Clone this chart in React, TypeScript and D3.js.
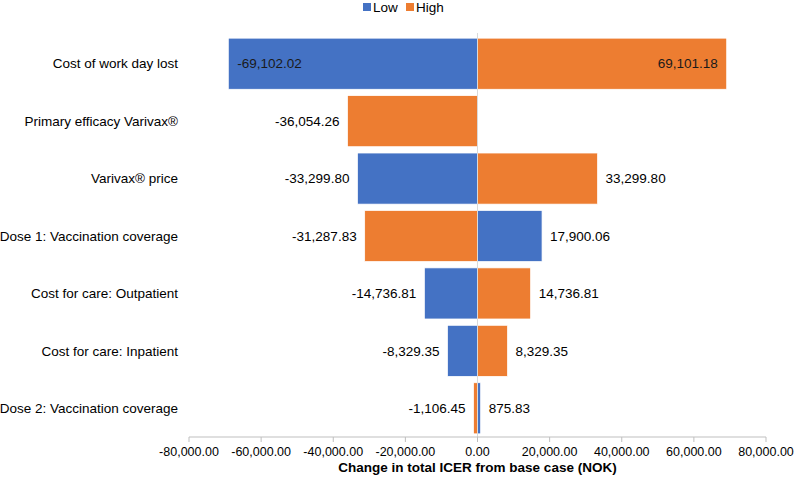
import React from "react";
import * as d3 from "d3";

const categories = [
  "Cost of work day lost",
  "Primary efficacy Varivax®",
  "Varivax® price",
  "Dose 1: Vaccination coverage",
  "Cost for care: Outpatient",
  "Cost for care: Inpatient",
  "Dose 2: Vaccination coverage",
];
const lowValues: (number | null)[] = [-69102.02, null, -33299.8, 17900.06, -14736.81, -8329.35, 875.83];
const highValues: (number | null)[] = [69101.18, -36054.26, 33299.8, -31287.83, 14736.81, 8329.35, -1106.45];
const xTicks = [-80000, -60000, -40000, -20000, 0, 20000, 40000, 60000, 80000];

const BLUE = "#4472C4";
const ORANGE = "#ED7D31";
const FONT = "Liberation Sans, Arial, sans-serif";

// excel style numbers, plain hyphen for negatives
const fmt = (v: number) => d3.format(",.2f")(v).replace("\u2212", "-");

const App = () => {
  const width = 796;
  const height = 483;
  const x = d3.scaleLinear().domain([-80000, 80000]).range([189, 766]);
  const y = d3.scaleBand<string>().domain(categories).range([35, 437]).paddingInner(0.11).paddingOuter(0.055);

  const series = [
    { name: "Low", color: BLUE, values: lowValues },
    { name: "High", color: ORANGE, values: highValues },
  ];

  const bars: React.ReactNode[] = [];
  const labels: React.ReactNode[] = [];
  series.forEach((s) => {
    s.values.forEach((v, i) => {
      if (v === null) return;
      const cat = categories[i];
      const x0 = x(Math.min(0, v));
      const x1 = x(Math.max(0, v));
      const yc = (y(cat) as number) + y.bandwidth() / 2;
      bars.push(
        <rect key={s.name + i} x={x0} y={y(cat)} width={x1 - x0} height={y.bandwidth()}
          fill={s.color} stroke="#fff" strokeWidth={0.75} />
      );
      const inside = x1 - x0 > 200;
      let lx: number;
      let anchor: string;
      if (v < 0) {
        lx = inside ? x0 + 9 : x0 - 8;
        anchor = inside ? "start" : "end";
      } else {
        lx = inside ? x1 - 9 : x1 + 8;
        anchor = inside ? "end" : "start";
      }
      labels.push(
        <text key={"l" + s.name + i} x={lx} y={yc} dy="0.35em" textAnchor={anchor}
          fontSize={13.5} fill={inside ? "#1a1a1a" : "#000"}>{fmt(v)}</text>
      );
    });
  });

  const axisY = 437;

  return (
    <svg width={width} height={height} style={{ position: "absolute", left: 0, top: 0, fontFamily: FONT }}>
      <rect width={width} height={height} fill="#fff" />
      {/* legend */}
      <g fontSize={13.5}>
        <rect x={363} y={3} width={8} height={8} fill={BLUE} />
        <text x={373} y={7} dy="0.35em">Low</text>
        <rect x={406} y={3} width={8} height={8} fill={ORANGE} />
        <text x={416} y={7} dy="0.35em">High</text>
      </g>
      {bars}
      {/* zero line */}
      <line x1={x(0)} x2={x(0)} y1={33} y2={axisY} stroke="#D9D9D9" strokeWidth={1} />
      {labels}
      {categories.map((c) => (
        <text key={c} x={178} y={(y(c) as number) + y.bandwidth() / 2} dy="0.35em" textAnchor="end" fontSize={13.5}>{c}</text>
      ))}
      {/* x axis */}
      <line x1={x(-80000)} x2={x(80000)} y1={axisY} y2={axisY} stroke="#BFBFBF" />
      {xTicks.map((t) => (
        <g key={t}>
          <line x1={x(t)} x2={x(t)} y1={axisY} y2={axisY + 5} stroke="#BFBFBF" />
          <text x={x(t)} y={axisY + 15} dy="0.35em" textAnchor="middle" fontSize={12.5} fill="#000">{fmt(t)}</text>
        </g>
      ))}
      <text x={x(0)} y={467} dy="0.35em" textAnchor="middle" fontSize={13.5} fontWeight="bold">
        Change in total ICER from base case (NOK)
      </text>
    </svg>
  );
};

export default App;
